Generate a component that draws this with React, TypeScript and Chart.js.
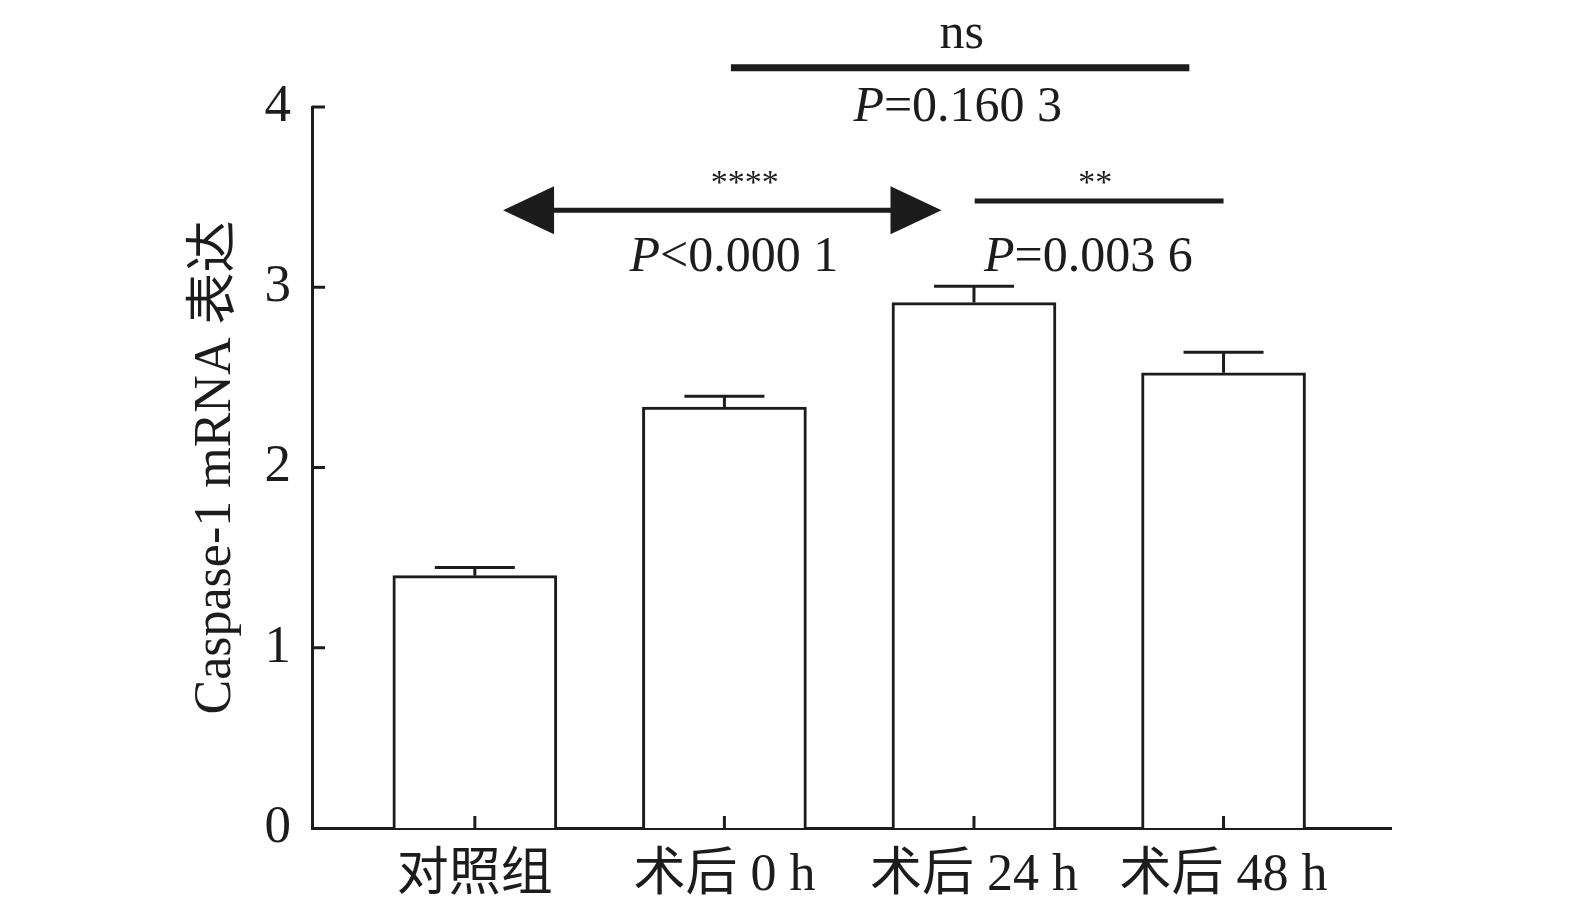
import React, { useEffect, useRef } from "react";
import { Chart, registerables } from "chart.js";

Chart.register(...registerables);

const categories = ["对照组", "术后 0 h", "术后 24 h", "术后 48 h"];
const means = [1.40, 2.335, 2.915, 2.525];
const errors = [0.045, 0.06, 0.09, 0.115];
const yTicks = [0, 1, 2, 3, 4];
const yTitle = "Caspase-1 mRNA 表达";

// comparison annotations (in data units)
const nsBar = { x1: 1.026, x2: 2.863, y: 4.218, label: "ns", labelY: 4.329, labelX: 1.951, p: "=0.160 3", pX: 1.935, pY: 3.923 };
const arrowBar = { x1: 0.113, x2: 1.87, y: 3.427, stars: "****", starsX: 1.082, starsY: 3.522, p: "<0.000 1", pX: 1.038, pY: 3.089 };
const twoStarBar = { x1: 2.003, x2: 3.0, y: 3.478, stars: "**", starsX: 2.486, starsY: 3.522, p: "=0.003 6", pX: 2.458, pY: 3.089 };

const INK = "#1c1c1c";
const SERIF = '"Liberation Serif", "Times New Roman", "Noto Sans CJK SC", serif';

const overlay = {
  id: "overlay",
  afterDatasetsDraw(chart: any) {
    const { ctx } = chart;
    const xs = chart.scales.x;
    const ys = chart.scales.y;
    const area = chart.chartArea;
    ctx.save();
    ctx.strokeStyle = INK;
    ctx.fillStyle = INK;
    ctx.lineCap = "butt";

    // error bars
    ctx.lineWidth = 3;
    means.forEach((m, i) => {
      const cx = xs.getPixelForValue(i);
      const yTop = ys.getPixelForValue(m + errors[i]);
      const yBar = ys.getPixelForValue(m);
      const half = 40;
      ctx.beginPath();
      ctx.moveTo(cx, yBar);
      ctx.lineTo(cx, yTop);
      ctx.moveTo(cx - half, yTop);
      ctx.lineTo(cx + half, yTop);
      ctx.stroke();
    });

    // inward ticks
    ctx.lineWidth = 3;
    yTicks.forEach((v) => {
      if (v === 0) return;
      const y = ys.getPixelForValue(v);
      ctx.beginPath();
      ctx.moveTo(area.left, y);
      ctx.lineTo(area.left + 13, y);
      ctx.stroke();
    });
    categories.forEach((_, i) => {
      const x = xs.getPixelForValue(i);
      ctx.beginPath();
      ctx.moveTo(x, area.bottom);
      ctx.lineTo(x, area.bottom - 12);
      ctx.stroke();
    });

    const drawP = (rest: string, cxVal: number, yVal: number) => {
      const cx = xs.getPixelForValue(cxVal);
      const y = ys.getPixelForValue(yVal);
      ctx.textBaseline = "alphabetic";
      ctx.textAlign = "left";
      ctx.font = `italic 50px ${SERIF}`;
      const wp = ctx.measureText("P").width;
      ctx.font = `50px ${SERIF}`;
      const wr = ctx.measureText(rest).width;
      const x0 = cx - (wp + wr) / 2;
      ctx.font = `italic 50px ${SERIF}`;
      ctx.fillText("P", x0, y);
      ctx.font = `50px ${SERIF}`;
      ctx.fillText(rest, x0 + wp, y);
    };

    // ns bar
    ctx.lineWidth = 7;
    ctx.beginPath();
    ctx.moveTo(xs.getPixelForValue(nsBar.x1), ys.getPixelForValue(nsBar.y));
    ctx.lineTo(xs.getPixelForValue(nsBar.x2), ys.getPixelForValue(nsBar.y));
    ctx.stroke();
    ctx.font = `50px ${SERIF}`;
    ctx.textAlign = "center";
    ctx.textBaseline = "alphabetic";
    ctx.fillText(nsBar.label, xs.getPixelForValue(nsBar.labelX), ys.getPixelForValue(nsBar.labelY));
    drawP(nsBar.p, nsBar.pX, nsBar.pY);

    // double arrow
    const ax1 = xs.getPixelForValue(arrowBar.x1);
    const ax2 = xs.getPixelForValue(arrowBar.x2);
    const ay = ys.getPixelForValue(arrowBar.y);
    const headLen = 51;
    const headHalf = 24;
    ctx.lineWidth = 5;
    ctx.beginPath();
    ctx.moveTo(ax1 + headLen - 2, ay);
    ctx.lineTo(ax2 - headLen + 2, ay);
    ctx.stroke();
    ctx.beginPath();
    ctx.moveTo(ax1, ay);
    ctx.lineTo(ax1 + headLen, ay - headHalf);
    ctx.lineTo(ax1 + headLen, ay + headHalf);
    ctx.closePath();
    ctx.fill();
    ctx.beginPath();
    ctx.moveTo(ax2, ay);
    ctx.lineTo(ax2 - headLen, ay - headHalf);
    ctx.lineTo(ax2 - headLen, ay + headHalf);
    ctx.closePath();
    ctx.fill();
    ctx.font = `34px ${SERIF}`;
    ctx.textAlign = "center";
    ctx.fillText(arrowBar.stars, xs.getPixelForValue(arrowBar.starsX), ys.getPixelForValue(arrowBar.starsY));
    drawP(arrowBar.p, arrowBar.pX, arrowBar.pY);

    // ** bar
    ctx.lineWidth = 5;
    ctx.beginPath();
    ctx.moveTo(xs.getPixelForValue(twoStarBar.x1), ys.getPixelForValue(twoStarBar.y));
    ctx.lineTo(xs.getPixelForValue(twoStarBar.x2), ys.getPixelForValue(twoStarBar.y));
    ctx.stroke();
    ctx.font = `34px ${SERIF}`;
    ctx.textAlign = "center";
    ctx.fillText(twoStarBar.stars, xs.getPixelForValue(twoStarBar.starsX), ys.getPixelForValue(twoStarBar.starsY));
    drawP(twoStarBar.p, twoStarBar.pX, twoStarBar.pY);

    ctx.restore();
  },
};

export default function App() {
  const ref = useRef<HTMLCanvasElement | null>(null);
  useEffect(() => {
    if (!ref.current) return;
    const chart = new Chart(ref.current, {
      type: "bar",
      data: {
        datasets: [
          {
            data: means.map((m, i) => ({ x: i, y: m })),
            backgroundColor: "#ffffff",
            borderColor: INK,
            borderWidth: 3,
            borderSkipped: "bottom",
            barThickness: 164,
          },
        ],
      },
      options: {
        animation: false,
        responsive: true,
        maintainAspectRatio: false,
        layout: { padding: { top: 107, right: 184, left: 0, bottom: 0 } },
        plugins: { legend: { display: false }, tooltip: { enabled: false } },
        scales: {
          x: {
            type: "linear",
            min: -0.6525,
            max: 3.671,
            offset: false,
            grid: { display: false, drawTicks: false, offset: false },
            border: { display: true, color: INK, width: 3 },
            afterBuildTicks: (s: any) => {
              s.ticks = categories.map((_, i) => ({ value: i }));
            },
            afterFit: (s: any) => {
              s.height = 85;
            },
            ticks: {
              autoSkip: false,
              maxRotation: 0,
              padding: 17,
              color: INK,
              font: { family: SERIF, size: 52 },
              callback: (v: any) => categories[v as number] ?? "",
            },
          },
          y: {
            min: 0,
            max: 4,
            grid: { display: false, drawTicks: false },
            border: { display: true, color: INK, width: 3 },
            afterBuildTicks: (s: any) => {
              s.ticks = yTicks.map((v) => ({ value: v }));
            },
            afterFit: (s: any) => {
              s.width = 312;
            },
            ticks: {
              padding: 21,
              color: INK,
              font: { family: SERIF, size: 53 },
            },
            title: {
              display: true,
              text: yTitle,
              color: INK,
              font: { family: SERIF, size: 52 },
              padding: { top: 185, bottom: 0 },
            },
          },
        },
      },
      plugins: [overlay],
    });
    return () => chart.destroy();
  }, []);
  return (
    <div style={{ position: "fixed", left: 0, top: 0, width: 1575, height: 913, background: "#fff" }}>
      <canvas ref={ref} />
    </div>
  );
}
